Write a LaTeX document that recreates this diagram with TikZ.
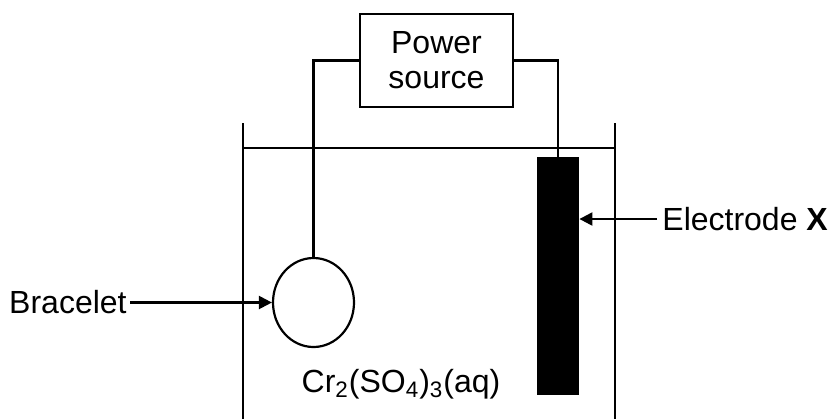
\documentclass[tikz,border=0pt]{standalone}
\usepackage{fontspec}
\setmainfont{Liberation Sans}
\usetikzlibrary{shapes.geometric,arrows.meta}
\tikzset{
	wall/.style={line width=1.4pt},
	wire/.style={line width=1.1pt},
	pointer/.style={line width=1.1pt,-{Triangle[length=6.5pt,width=6.5pt]}}
}
\begin{document}
\begin{tikzpicture}[x=0.5pt,y=-0.5pt,font=\fontsize{16pt}{17.5pt}\selectfont]
			\useasboundingbox (0,0) rectangle (830,419);
			% beaker and solution level
			\draw[wall] (243,123) -- (243,419);
			\draw[wall] (615,123) -- (615,419);
			\draw[wire] (243,148) -- (615,148);
			% parts
			\node[draw,line width=0.8pt,minimum width=76.5pt,minimum height=46.5pt,align=center] (psrc) at (436.5,60.5) {Power\\source};
			\node[draw,ellipse,line width=1.1pt,minimum width=40.5pt,minimum height=44.5pt,inner sep=0pt] (bracelet) at (313.5,302.5) {};
			\node[fill=black,draw=none,minimum width=21pt,minimum height=119pt,inner sep=0pt] (electrode) at (558,276) {};
			\draw[wire] (psrc.west) -| (bracelet.north);
			\draw[wire] (psrc.east) -| (electrode.north);
			% labels
			\node[anchor=east,inner sep=1.5pt] (braclbl) at (130,302.5) {Bracelet};
			\draw[pointer] (braclbl.east) -- (bracelet.west);
			\node[anchor=west,inner sep=2.5pt] (elbl) at (657,219) {Electrode \textbf{X}};
			\draw[pointer] (elbl.west) -- (electrode.east |- elbl.west);
			\node[anchor=base,inner sep=0pt] (soln) at (401,392) {Cr\textsubscript{2}(SO\textsubscript{4})\textsubscript{3}(aq)};
		\end{tikzpicture}
\end{document}
